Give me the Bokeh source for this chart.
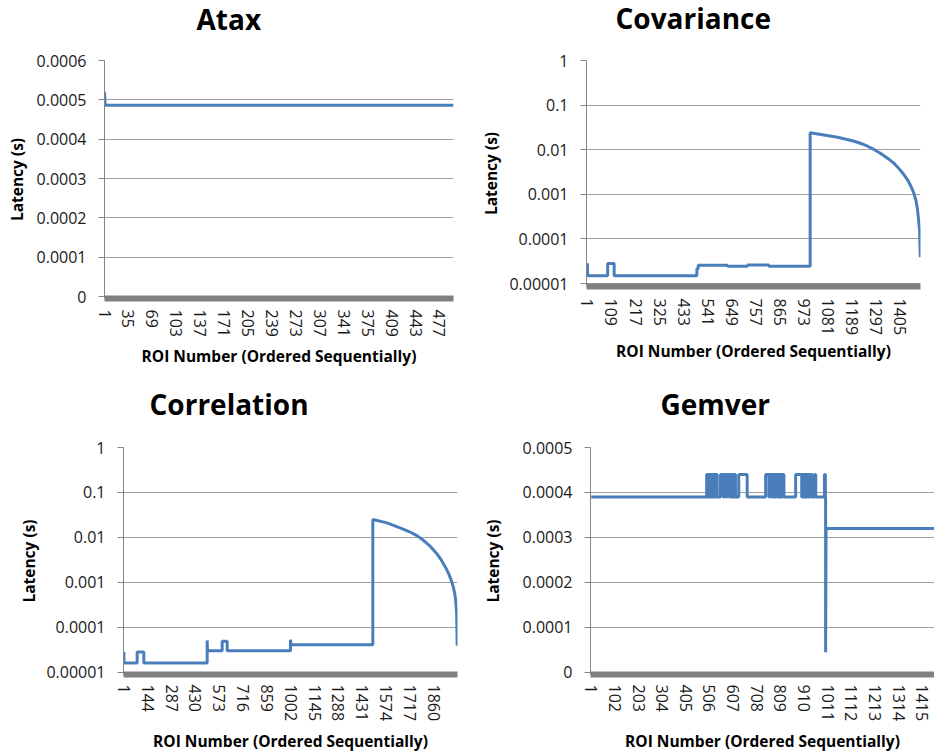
from bokeh.plotting import figure
from bokeh.layouts import column, row
from bokeh.models import Range1d, FixedTicker, NumeralTickFormatter
from bokeh.core.properties import value
from bokeh.embed import file_html
from bokeh.resources import INLINE

# ---------------- data ----------------
titles = ["Atax", "Covariance", "Correlation", "Gemver"]
y_label = "Latency (s)"
x_label = "ROI Number (Ordered Sequentially)"

# Atax
atax_roi = [1, 2, 497]
atax_lat = [0.00052, 0.000486, 0.000486]
atax_xticks = [1, 35, 69, 103, 137, 171, 205, 239, 273, 307, 341, 375, 409, 443, 477]
atax_yticks = [0, 0.0001, 0.0002, 0.0003, 0.0004, 0.0005, 0.0006]

# Covariance
cov_roi = [1, 2, 92, 92, 121, 121, 492, 492, 498, 498, 630, 630, 719, 719, 815, 815,
           1000, 1000, 1123, 1198, 1228, 1260, 1288, 1317, 1350, 1377, 1400, 1422, 1440,
           1452, 1464, 1474, 1481, 1485, 1491, 1494]
cov_lat = [2.85e-5, 1.5e-5, 1.5e-5, 2.8e-5, 2.8e-5, 1.5e-5, 1.5e-5, 2.15e-5, 2.15e-5, 2.55e-5,
           2.55e-5, 2.45e-5, 2.45e-5, 2.6e-5, 2.6e-5, 2.45e-5,
           2.45e-5, 0.024, 0.019, 0.0155, 0.0138, 0.0118, 0.0100, 0.0082, 0.0063, 0.0049,
           0.0037, 0.0027, 0.0020, 0.0015, 0.0011, 0.00075, 0.00048, 0.00031, 0.000155,
           0.000039]
cov_xticks = [1, 109, 217, 325, 433, 541, 649, 757, 865, 973, 1081, 1189, 1297, 1405]
log_yticks = [0.00001, 0.0001, 0.001, 0.01, 0.1, 1]

# Correlation
corr_roi = [1, 2, 81, 81, 121, 121, 501, 501, 503, 591, 591, 621, 621, 1001, 1001, 1003,
            1495, 1495, 1580, 1662, 1712, 1762, 1800, 1842, 1875, 1902, 1930, 1952, 1966,
            1978, 1986, 1992, 1998, 2001]
corr_lat = [2.8e-5, 1.6e-5, 1.6e-5, 2.8e-5, 2.8e-5, 1.6e-5, 1.6e-5, 5.1e-5, 3.0e-5, 3.0e-5,
            4.9e-5, 4.9e-5, 3.0e-5, 3.0e-5, 5.3e-5, 4.1e-5,
            4.1e-5, 0.0249, 0.021, 0.016, 0.0135, 0.0108, 0.0085, 0.0062, 0.0045, 0.0033,
            0.0022, 0.0015, 0.0011, 0.00078, 0.00057, 0.0004, 0.0002, 3.9e-5]
corr_xticks = [1, 144, 287, 430, 573, 716, 859, 1002, 1145, 1288, 1431, 1574, 1717, 1860]

# Gemver: baseline level with bursts of a higher level, then a drop
gem_base = 0.00039
gem_high = 0.00044
gem_high_from = [494, 499, 504, 509, 514, 519, 524, 529, 534, 553, 570, 581, 595, 602, 608,
                 614, 631, 746, 764, 773, 780, 786, 793, 800, 806, 812, 818, 874, 903, 909,
                 915, 921, 927, 933, 939, 955, 997]
gem_high_to = [497, 502, 507, 512, 517, 522, 527, 532, 539, 565, 578, 590, 600, 606, 612,
               617, 667, 760, 771, 778, 784, 790, 798, 804, 810, 816, 824, 900, 907, 913,
               919, 925, 931, 937, 945, 960, 1001]
gem_drop_roi = [1002, 1002, 1004, 1467]
gem_drop_lat = [0.00039, 0.0000446, 0.00032, 0.00032]
gem_xticks = [1, 102, 203, 304, 405, 506, 607, 708, 809, 910, 1011, 1112, 1213, 1314, 1415]
gem_yticks = [0, 0.0001, 0.0002, 0.0003, 0.0004, 0.0005]

gem_roi = [1]
gem_lat = [gem_base]
for a, b in zip(gem_high_from, gem_high_to):
    gem_roi += [a, a, b, b]
    gem_lat += [gem_base, gem_high, gem_high, gem_base]
gem_roi += gem_drop_roi
gem_lat += gem_drop_lat

# ---------------- style ----------------
LINE = "#4a7ebb"
FONT = "Open Sans"
GRID = "#a0a0a0"
AXIS = "#868686"
BAR = "#808080"
PAGE_W = 934


def title_strip(h, names, xs, ys):
    s = figure(width=PAGE_W, height=h, x_range=Range1d(0, PAGE_W), y_range=Range1d(h, 0),
               output_backend="svg", toolbar_location=None,
               x_axis_location=None, y_axis_location=None, min_border=0)
    s.outline_line_color = None
    s.xgrid.visible = False
    s.ygrid.visible = False
    s.text(x=xs, y=ys, text=names, text_font=value(FONT), text_font_size="28px",
           text_font_style="bold", text_color="black", text_align="left",
           text_baseline="alphabetic")
    return s


def make(xs, ys, xr, yr, xticks, yticks, log, fw, fh, borders, ylab_so, xlab_so, xtick_so):
    p = figure(frame_width=fw, frame_height=fh, x_range=Range1d(*xr), y_range=Range1d(*yr),
               y_axis_type="log" if log else "linear",
               output_backend="svg", toolbar_location=None,
               min_border_left=borders[0], min_border_right=borders[1],
               min_border_top=borders[2], min_border_bottom=borders[3])
    p.outline_line_color = None
    p.background_fill_color = "white"
    p.border_fill_color = "white"

    p.xgrid.visible = False
    p.ygrid.ticker = FixedTicker(ticks=yticks, minor_ticks=[])
    p.ygrid.grid_line_color = GRID
    p.ygrid.grid_line_width = 1
    p.ygrid.minor_grid_line_color = None

    ya = p.yaxis[0]
    ya.ticker = FixedTicker(ticks=yticks, minor_ticks=[])
    ya.formatter = NumeralTickFormatter(format="0.[00000]")
    ya.axis_line_color = AXIS
    ya.major_tick_line_color = AXIS
    ya.major_tick_out = 6
    ya.major_tick_in = 0
    ya.minor_tick_line_color = None
    ya.major_label_standoff = 12
    ya.major_label_text_font = FONT
    ya.major_label_text_font_size = "16px"
    ya.major_label_text_color = "#1a1a1a"
    ya.axis_label = y_label
    ya.axis_label_text_font = FONT
    ya.axis_label_text_font_size = "15.5px"
    ya.axis_label_text_font_style = "bold"
    ya.axis_label_text_color = "black"
    ya.axis_label_standoff = ylab_so

    xa = p.xaxis[0]
    xa.ticker = FixedTicker(ticks=xticks, minor_ticks=[])
    xa.major_label_orientation = "vertical"
    xa.axis_line_color = BAR
    xa.axis_line_width = 6
    xa.major_tick_line_color = None
    xa.major_tick_out = 0
    xa.major_tick_in = 0
    xa.minor_tick_line_color = None
    xa.major_label_standoff = xtick_so
    xa.major_label_text_font = FONT
    xa.major_label_text_font_size = "16px"
    xa.major_label_text_color = "#1a1a1a"
    xa.axis_label = x_label
    xa.axis_label_text_font = FONT
    xa.axis_label_text_font_size = "15.5px"
    xa.axis_label_text_font_style = "bold"
    xa.axis_label_text_color = "black"
    xa.axis_label_standoff = xlab_so

    p.line(xs, ys, line_color=LINE, line_width=3)
    return p


strip1 = title_strip(46, titles[0:2], [196, 615], [18, 17])
strip2 = title_strip(53, titles[2:4], [149, 660], [23, 23])

p1 = make(atax_roi, atax_lat, (1, 497), (-0.0006 * 2 / 236, 0.0006),
          atax_xticks, atax_yticks, False, 349, 238, (104, 13, 14, 82), 6, 5, 11)
p2 = make(cov_roi, cov_lat, (-3, 1495), (10 ** (-5 - 3 / 44.6), 1),
          cov_xticks, log_yticks, True, 334, 226, (120, 14, 14, 94), 4, 2, 12)
p3 = make(corr_roi, corr_lat, (-1, 2003), (10 ** (-5 - 2.3 / 44.9), 1),
          corr_xticks, log_yticks, True, 334, 227, (123, 9, 14, 78), 3, 6, 10)
p4 = make(gem_roi, gem_lat, (-2, 1467), (-0.0005 * 2.3 / 224.4, 0.0005),
          gem_xticks, gem_yticks, False, 344, 227, (124, 0, 14, 78), 16, 6, 10)

layout = column(strip1, row(p1, p2), strip2, row(p3, p4))
open("out.html", "w").write(file_html(layout, INLINE))
